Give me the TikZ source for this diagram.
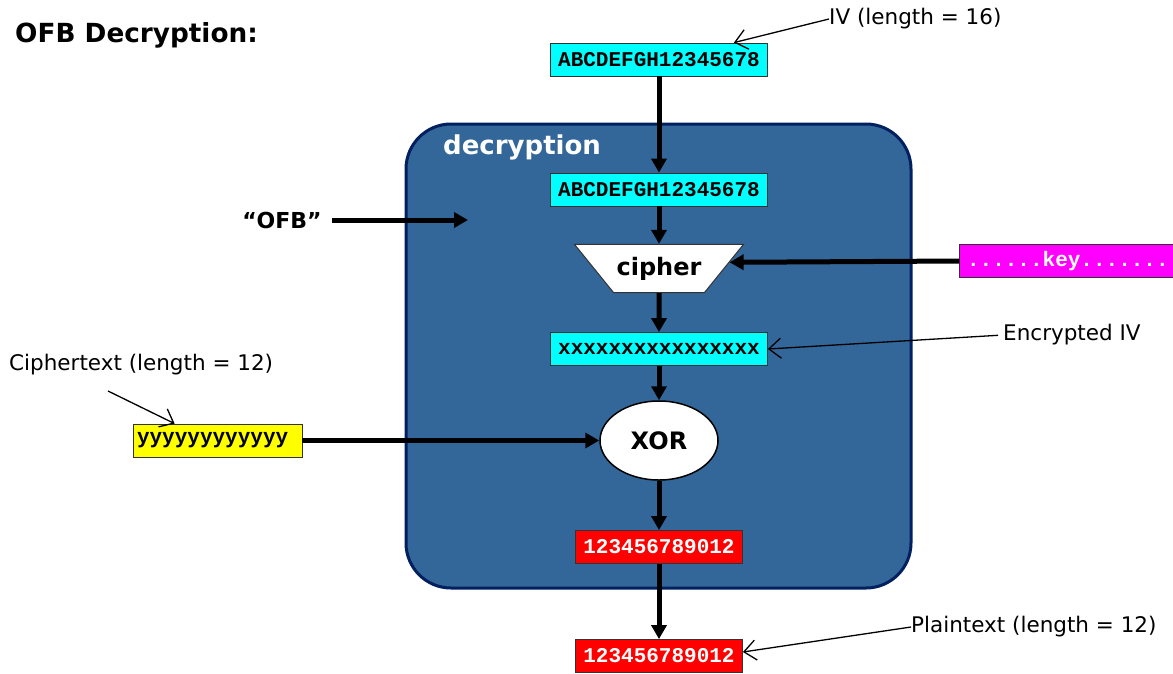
\documentclass[tikz,border=0pt]{standalone}
\usepackage{fontspec}
\setmainfont{DejaVu Sans}
\newfontfamily\boxfont{Liberation Mono}
\usetikzlibrary{shapes.geometric,arrows.meta}

\tikzset{
  databox/.style={draw=black!80,line width=0.8pt,inner sep=0pt,minimum height=33pt,
    font=\boxfont\bfseries\fontsize{21}{21}\selectfont},
  cipherbox/.style={trapezium,shape border rotate=180,trapezium left angle=51,
    trapezium right angle=51,inner xsep=3pt,inner ysep=12.5pt,
    draw=black!80,line width=1pt,fill=white,
    font=\bfseries\fontsize{24}{28}\selectfont},
  xorbox/.style={ellipse,draw=black,line width=1.5pt,fill=white,minimum width=118pt,
    minimum height=79pt,inner sep=0pt,font=\bfseries\fontsize{24}{28}\selectfont},
  flow/.style={line width=5pt,-{Triangle[length=14pt,width=15pt]}},
  callout/.style={line width=1.3pt,-{Straight Barb[length=12pt,width=20pt]}},
  note/.style={inner sep=0pt,font=\fontsize{21.5}{25}\selectfont},
}

\begin{document}
\begin{tikzpicture}[x=1pt,y=-1pt]
\definecolor{regionFill}{RGB}{51,102,153}
\definecolor{regionDraw}{RGB}{0,32,96}
\definecolor{ivColor}{RGB}{0,255,255}
\definecolor{keyColor}{RGB}{255,0,255}
\definecolor{ctColor}{RGB}{255,255,0}
\definecolor{ptColor}{RGB}{255,0,0}
\path[use as bounding box] (0,0) rectangle (1173,673);

\node[anchor=base west,inner sep=0pt,font=\bfseries\fontsize{26.3}{30}\selectfont] (title) at (15,42) {OFB Decryption:};

% the decryption block
\draw[draw=regionDraw,line width=3pt,fill=regionFill,rounded corners=45pt] (406,124) rectangle (911,588);
\node[anchor=base west,inner sep=0pt,text=white,font=\bfseries\fontsize{26}{30}\selectfont] (blockname) at (443,154) {decryption};

\node[databox,fill=ivColor,minimum width=217pt] (iv) at (659,59.5) {ABCDEFGH12345678};
\node[databox,fill=ivColor,minimum width=217pt] (ivin) at (659,189.5) {ABCDEFGH12345678};
\node[cipherbox] (cipher) at (659,268.5) {cipher};
\node[databox,fill=keyColor,text=white,minimum width=217pt,anchor=west] (key) at (959,261) {......key.......};
\node[databox,fill=ivColor,minimum width=217pt] (eiv) at (659,349) {xxxxxxxxxxxxxxxx};
\node[xorbox] (xor) at (659,440.5) {XOR};
\node[databox,fill=ctColor,minimum width=169pt,text width=161pt,align=left] (ct) at (217.5,440.5) {yyyyyyyyyyyy};
\node[databox,fill=ptColor,text=white,minimum width=167pt] (pt) at (659,547) {123456789012};
\node[databox,fill=ptColor,text=white,minimum width=167pt] (ptout) at (659,656) {123456789012};

\node[inner sep=0pt,font=\bfseries\fontsize{22}{26}\selectfont] (mode) at (282,220) {“OFB”};
\coordinate (modein) at (468,220);

\draw[flow] (iv) -- (ivin);
\draw[flow] (ivin) -- (cipher);
\draw[flow] (key.west) -- (cipher.5);
\draw[flow] (cipher) -- (eiv);
\draw[flow] (eiv) -- (xor);
\draw[flow] (ct) -- (xor);
\draw[flow] (xor) -- (pt);
\draw[flow] (pt) -- (ptout);
\draw[flow,shorten <=10pt] (mode.east) -- (modein);

% notes
\node[note,anchor=west] (ivnote) at (829,19) {IV (length = 16)};
\draw[callout] (ivnote.west) -- ([xshift=-34pt]iv.north east);

\node[note,anchor=west] (eivnote) at (1003,335) {Encrypted IV};
\draw[callout,shorten <=5pt] (eivnote.west) -- (eiv.east);

\node[note,anchor=west] (ctnote) at (9,365) {Ciphertext (length = 12)};
\coordinate (ctfrom) at (108,391);
\draw[callout] (ctfrom) -- ([xshift=42pt]ct.north west);

\node[note,anchor=west] (ptnote) at (911,627) {Plaintext (length = 12)};
\draw[callout] (ptnote.west) -- ([yshift=4pt]ptout.east);
\end{tikzpicture}
\end{document}
